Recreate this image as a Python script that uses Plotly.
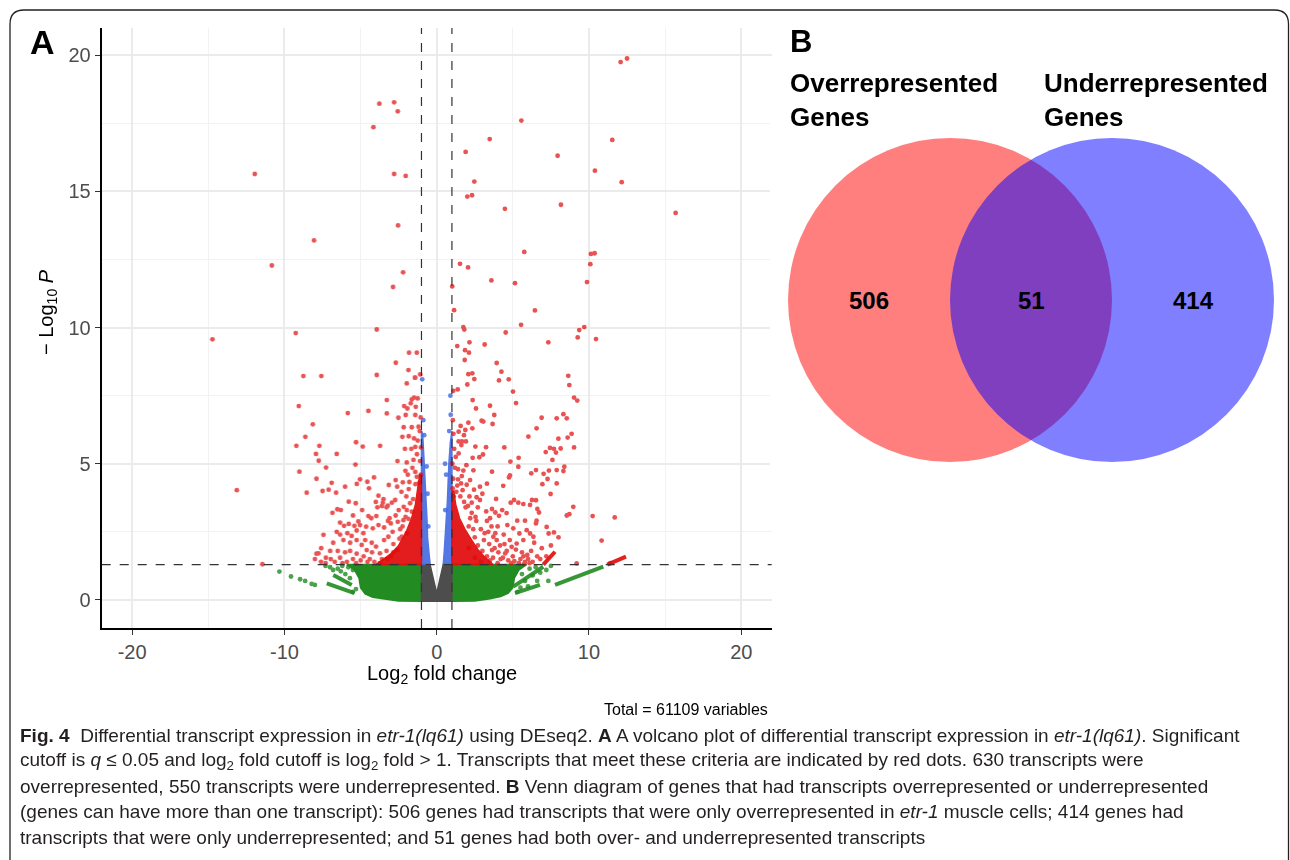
import plotly.graph_objects as go

# ---------------- DATA ----------------
# thresholds
lfc_cut = 1.0
p_cut = 1.3
x_ticks = [-20, -10, 0, 10, 20]
y_ticks = [0, 5, 10, 15, 20]

# significant (red) transcripts (log2FC, -log10 P)
red_right = [
    (12.08, 19.75), (12.50, 19.88), (5.56, 17.60), (3.48, 16.92), (11.53, 16.89), (1.90, 16.45),
    (7.94, 16.31), (10.39, 15.76), (2.47, 15.36), (12.15, 15.34), (2.01, 14.81), (2.32, 14.86),
    (4.48, 14.36), (8.16, 14.51), (15.69, 14.21), (5.75, 12.78), (10.13, 12.71), (10.37, 12.73),
    (1.53, 12.34), (2.06, 12.21), (10.09, 12.33), (3.59, 11.73), (5.14, 11.63), (9.87, 11.67),
    (1.02, 11.51), (1.14, 10.64), (6.45, 10.63), (5.54, 10.10), (1.75, 10.02), (9.69, 10.02),
    (9.36, 9.91), (1.81, 9.93), (4.53, 9.82), (9.26, 9.64), (10.46, 9.58), (7.33, 9.46),
    (1.35, 9.32), (2.15, 9.46), (3.15, 9.38), (1.86, 9.17), (2.12, 9.08), (1.84, 8.81),
    (3.94, 8.70), (4.25, 8.38), (2.08, 8.29), (2.34, 8.32), (2.47, 8.11), (4.09, 8.06),
    (4.73, 8.10), (2.01, 7.91), (8.64, 8.23), (8.71, 7.89), (1.09, 7.68), (1.38, 7.73),
    (5.01, 7.65), (9.02, 7.43), (9.23, 7.32), (2.36, 7.34), (5.21, 7.23), (3.50, 7.13),
    (2.58, 7.03), (3.78, 6.79), (6.89, 6.69), (7.88, 6.67), (8.32, 6.82), (8.54, 6.67),
    (2.08, 6.51), (2.95, 6.58), (3.06, 6.55), (1.57, 6.39), (2.34, 6.30), (1.88, 6.24),
    (3.67, 6.46), (6.56, 6.30), (6.02, 6.00), (1.44, 6.18), (1.79, 6.05), (7.99, 5.92),
    (8.60, 5.96), (8.86, 6.10), (1.44, 5.82), (1.66, 5.82), (1.92, 5.82), (2.54, 5.63),
    (3.24, 5.61), (4.44, 5.60), (7.44, 5.58), (7.70, 5.55), (8.14, 5.56), (7.83, 5.41),
    (9.02, 5.60), (7.16, 5.43), (7.60, 5.14), (1.62, 5.69), (1.44, 5.38), (2.36, 5.22),
    (2.80, 5.24), (3.04, 5.34), (5.38, 5.22), (4.84, 5.08), (1.20, 4.85), (1.40, 4.80),
    (1.75, 4.75), (5.36, 4.89), (8.38, 4.89), (7.88, 4.77), (8.32, 4.73), (3.63, 4.71),
    (6.21, 4.65), (6.52, 4.77), (2.41, 4.76), (1.40, 4.43), (7.02, 4.63), (7.37, 4.75),
    (4.81, 4.57), (4.75, 4.50), (1.60, 4.28), (1.97, 4.23), (2.19, 4.40), (3.30, 4.27),
    (2.84, 4.16), (6.94, 4.25), (7.88, 4.28), (7.28, 4.44), (4.37, 4.19), (1.70, 4.03),
    (1.29, 3.97), (7.48, 3.89), (2.62, 3.77), (2.84, 3.67), (2.30, 3.57), (3.90, 3.71),
    (4.86, 3.57), (5.36, 3.57), (5.69, 3.52), (6.13, 3.49), (5.08, 3.67), (6.26, 3.67),
    (6.52, 3.66), (8.97, 3.42), (8.54, 3.10), (8.71, 3.15), (10.24, 3.08), (11.69, 3.03),
    (6.61, 3.34), (6.72, 3.21), (3.63, 3.34), (3.85, 3.21), (4.09, 3.09), (4.59, 3.19),
    (5.29, 2.91), (5.80, 2.91), (6.56, 2.91), (6.52, 2.81), (7.22, 2.68), (7.70, 2.48),
    (7.35, 2.44), (5.91, 2.56), (6.13, 2.44), (6.35, 2.32), (4.64, 2.75), (5.03, 2.63),
    (5.43, 2.44), (5.69, 2.20), (5.25, 2.07), (4.92, 1.95), (3.39, 2.50), (3.72, 2.32),
    (3.94, 2.20), (4.16, 2.00), (3.63, 1.83), (4.50, 1.71), (10.83, 2.18), (9.19, 1.34),
    (11.40, 1.35), (2.60, 2.90), (2.90, 2.60), (3.10, 2.20), (2.70, 2.00), (3.00, 1.80),
    (3.30, 1.60), (2.50, 1.55), (3.50, 1.45), (3.80, 1.90), (4.20, 1.50), (4.70, 1.45),
    (5.00, 1.60), (5.50, 1.50), (5.60, 1.75), (5.80, 1.40), (5.70, 1.60), (6.00, 1.50),
    (6.30, 1.40), (6.60, 1.60), (6.90, 1.90), (6.20, 1.80), (4.40, 2.40), (4.00, 2.70),
    (3.30, 2.90), (2.30, 3.20), (2.10, 2.70), (2.50, 2.30), (4.80, 2.20), (5.20, 1.85),
    (3.50, 3.00), (4.30, 3.30), (2.70, 3.40), (1.90, 3.40), (3.00, 3.90), (2.20, 3.00),
    (3.60, 2.70), (4.60, 1.80), (2.90, 1.40), (2.10, 1.90), (6.40, 2.10), (6.80, 1.50),
    (7.50, 2.00), (7.20, 1.60), (8.00, 2.30), (5.40, 1.35), (4.00, 1.35), (3.70, 1.55),
    (2.40, 2.60), (1.55, 3.80), (1.80, 3.60), (2.05, 3.45), (1.35, 4.20), (1.65, 4.55),
    (2.15, 3.80), (2.55, 3.05), (3.15, 2.45), (3.45, 2.05), (4.05, 1.75), (4.35, 1.55),
    (4.90, 1.35), (5.10, 1.42), (5.75, 1.32), (5.95, 1.65), (6.10, 1.35), (4.45, 2.05),
    (3.85, 2.45), (3.25, 3.25), (2.45, 4.05), (1.95, 4.95), (1.25, 5.25), (1.15, 5.55),
    (1.05, 4.10), (1.08, 4.45), (1.12, 3.80), (1.03, 5.00), (1.10, 6.10), (1.06, 6.60),
]
red_left = [
    (-3.77, 18.22), (-2.80, 18.27), (-2.56, 17.94), (-4.16, 17.36), (-11.95, 15.64), (-2.80, 15.64),
    (-2.04, 15.57), (-2.54, 13.75), (-8.06, 13.20), (-10.83, 12.28), (-2.21, 12.03), (-2.87, 11.49),
    (-14.73, 9.57), (-9.26, 9.80), (-3.94, 9.93), (-13.13, 4.03), (-11.45, 1.31), (-8.76, 8.22),
    (-7.58, 8.22), (-9.06, 7.12), (-8.14, 6.45), (-8.63, 5.99), (-9.22, 5.66), (-9.02, 4.71),
    (-8.54, 3.94), (-5.84, 6.86), (-4.49, 6.94), (-3.28, 7.34), (-3.28, 6.85), (-3.94, 8.26),
    (-2.69, 8.71), (-1.82, 9.08), (-1.31, 9.08), (-1.86, 8.44), (-1.42, 8.16), (-7.71, 5.66),
    (-7.93, 5.36), (-7.75, 5.11), (-6.57, 5.36), (-5.30, 5.79), (-4.86, 5.63), (-3.72, 5.66),
    (-5.34, 4.97), (-5.04, 4.43), (-7.27, 4.86), (-7.90, 4.45), (-7.50, 4.00), (-7.10, 4.05),
    (-6.90, 4.30), (-6.61, 3.94), (-6.85, 3.20), (-6.53, 3.33), (-6.02, 4.16), (-5.25, 4.26),
    (-4.56, 4.34), (-4.12, 4.50), (-5.78, 3.61), (-5.32, 3.55), (-4.45, 4.10), (-3.15, 4.22),
    (-4.00, 3.60), (-3.90, 3.40), (-3.60, 3.45), (-3.30, 3.40), (-3.50, 3.70), (-4.49, 3.08),
    (-3.97, 3.08), (-1.09, 8.28), (-1.97, 7.95), (-1.43, 8.16), (-1.49, 7.43), (-1.64, 7.36),
    (-1.25, 7.40), (-2.14, 7.12), (-1.93, 7.03), (-1.71, 7.22), (-1.38, 7.09), (-2.52, 6.69),
    (-2.04, 6.79), (-1.41, 6.79), (-2.17, 6.34), (-1.64, 6.34), (-1.20, 6.36), (-2.26, 5.99),
    (-1.84, 6.01), (-1.49, 5.93), (-2.09, 5.55), (-1.67, 5.55), (-1.41, 5.62), (-2.58, 5.10),
    (-1.97, 5.05), (-1.53, 5.14), (-2.06, 4.74), (-1.41, 4.70), (-2.23, 4.32), (-1.80, 4.33),
    (-1.31, 4.52), (-2.60, 4.16), (-2.32, 3.97), (-1.84, 4.07), (-3.83, 3.83), (-3.54, 3.57),
    (-3.22, 3.46), (-2.95, 3.57), (-2.73, 3.67), (-2.17, 3.42), (-1.97, 3.30), (-1.64, 3.24),
    (-5.04, 2.75), (-4.64, 2.69), (-4.20, 2.63), (-3.83, 2.75), (-3.46, 2.66), (-3.02, 2.81),
    (-2.56, 2.87), (-2.19, 2.93), (-1.86, 2.98), (-6.35, 2.84), (-6.09, 2.72), (-5.78, 2.79),
    (-5.41, 2.72), (-5.15, 2.88), (-6.57, 2.50), (-6.35, 2.40), (-5.87, 2.45), (-5.59, 2.35),
    (-5.26, 2.55), (-4.82, 2.45), (-7.44, 2.39), (-7.59, 1.90), (-7.77, 1.71), (-7.28, 1.55),
    (-6.96, 1.50), (-6.35, 1.55), (-6.02, 1.75), (-5.69, 1.80), (-5.26, 1.70), (-4.60, 1.83),
    (-4.27, 2.10), (-3.99, 1.96), (-3.73, 1.71), (-3.46, 2.20), (-3.18, 2.32), (-2.85, 2.05),
    (-2.58, 1.83), (-2.30, 2.32), (-1.97, 2.45), (-5.26, 2.20), (-4.93, 2.02), (-6.13, 2.20),
    (-5.69, 2.10), (-7.60, 1.40), (-7.30, 1.35), (-6.70, 1.40), (-6.50, 1.80), (-5.90, 1.40),
    (-5.50, 1.50), (-5.00, 1.45), (-4.80, 1.60), (-4.40, 1.50), (-4.10, 1.40), (-4.70, 2.20),
    (-3.60, 1.50), (-3.30, 1.80), (-3.00, 1.60), (-2.90, 2.50), (-3.20, 2.90), (-2.70, 3.10),
    (-2.40, 2.60), (-4.30, 3.00), (-3.10, 3.00), (-2.00, 3.80), (-2.50, 3.30), (-1.90, 4.60),
    (-2.70, 4.40), (-6.30, 3.30), (-5.50, 3.10), (-4.90, 3.30), (-6.20, 1.35), (-5.30, 1.35),
    (-7.00, 1.80), (-6.80, 2.10), (-8.00, 1.50), (-7.90, 1.70), (-1.55, 3.70), (-1.75, 3.55),
    (-1.40, 4.25), (-1.60, 4.85), (-1.30, 5.35), (-1.25, 5.85), (-2.45, 2.25), (-2.85, 1.75),
    (-3.25, 1.50), (-3.75, 1.35), (-4.25, 1.75), (-4.55, 1.40), (-2.05, 3.05), (-2.25, 2.70),
    (-1.05, 4.60), (-1.10, 5.10), (-1.04, 5.60), (-1.12, 6.20), (-1.06, 6.70), (-1.15, 4.30),
]
# dense significant cores next to the fold-change cut-offs (outline of the solid red mass)
red_core_left = [(-1, 1.3), (-1, 4.6), (-1.12, 4.6), (-1.25, 4.0), (-1.4, 3.5),
                 (-1.65, 3.0), (-2.0, 2.5), (-2.5, 2.0), (-3.0, 1.7), (-3.6, 1.45), (-4.0, 1.3)]
red_core_right = [(1, 1.3), (1, 4.0), (1.12, 4.0), (1.25, 3.5), (1.5, 3.0),
                  (1.85, 2.6), (2.3, 2.2), (2.7, 1.85), (3.2, 1.55), (3.7, 1.3)]
red_streaks = [[(7.0, 1.30), (7.77, 1.77)], [(11.2, 1.30), (12.43, 1.59)]]

# p-value only (blue)
blue_left = [(-1, 1.3), (-0.43, 1.3), (-0.52, 1.8), (-0.6, 2.3), (-0.64, 3.0), (-0.7, 3.6),
             (-0.75, 4.4), (-0.85, 5.2), (-0.92, 6.1), (-1, 6.2)]
blue_right = [(1, 1.3), (0.43, 1.3), (0.5, 1.8), (0.57, 2.3), (0.63, 3.0), (0.7, 3.6),
              (0.75, 4.4), (0.8, 5.0), (0.9, 5.8), (0.97, 6.2), (1, 6.2)]
blue_pts = [(-0.95, 8.1), (-0.82, 6.05), (-0.88, 6.6), (0.82, 6.2), (0.55, 5.0), (0.9, 7.5),
            (0.92, 6.8), (0.62, 4.6), (-0.66, 4.9), (-0.6, 3.9), (0.56, 3.3), (-0.55, 2.7)]

# fold-change only (green)
green_left = [(-1, 1.3), (-1, -0.05), (-2.5, -0.04), (-3.5, 0.03), (-4.2, 0.1), (-4.7, 0.22),
              (-5.0, 0.45), (-5.1, 0.8), (-5.4, 1.1), (-5.9, 1.3)]
green_right = [(1, 1.3), (1, -0.05), (2.5, -0.04), (3.5, 0.04), (4.2, 0.13), (4.7, 0.25),
               (5.0, 0.45), (5.1, 0.8), (5.4, 1.1), (5.9, 1.3)]
green_pts = [(-10.33, 1.04), (-9.57, 0.86), (-8.97, 0.76), (-8.64, 0.70), (-8.21, 0.59), (-8.0, 0.55),
             (-5.5, 1.1), (-5.8, 1.2), (-6.2, 1.25), (-6.5, 1.15), (-6.0, 0.95), (-5.7, 0.8),
             (-6.3, 1.05), (-7.0, 1.2), (-7.3, 1.25), (-6.8, 1.1), (-5.3, 0.4), (-5.5, 0.3),
             (6.5, 1.2), (6.8, 1.0), (6.3, 0.9), (5.8, 0.7), (6.0, 0.5), (7.2, 1.1), (6.6, 0.7),
             (5.5, 0.45), (7.5, 1.25), (5.3, 0.3), (7.33, 0.70), (6.1, 1.15), (5.6, 0.95)]
green_streaks = [[(-7.22, 0.61), (-5.4, 0.25)], [(-6.79, 0.92), (-5.58, 0.55)],
                 [(5.14, 0.25), (6.78, 0.55)], [(5.03, 0.49), (7.0, 1.22)],
                 [(7.77, 0.55), (10.94, 1.22)]]

# not significant (grey): outline of the solid mass with the empty notch at zero
grey_region = [(-1, -0.05), (1, -0.05), (1, 1.3), (0.43, 1.3), (0, 0.25), (-0.44, 1.3), (-1, 1.3)]

# Venn diagram
venn_counts = [506, 51, 414]
venn_titles = ["Overrepresented<br>Genes", "Underrepresented<br>Genes"]
total_label = "Total = 61109 variables"

# ---------------- FIGURE ----------------
W, H = 1290, 860
RED, BLUE, GREEN, GREY = "rgb(225,10,10)", "rgb(65,105,225)", "rgb(34,139,34)", "rgb(77,77,77)"
ARIAL = "Liberation Sans, Arial, sans-serif"


def px(x):
    return x / W


def py(y):
    return 1 - y / H


fig = go.Figure()


def poly(pts, color, op=1.0):
    xs = [p[0] for p in pts] + [pts[0][0]]
    ys = [p[1] for p in pts] + [pts[0][1]]
    fig.add_trace(go.Scatter(x=xs, y=ys, mode="lines", fill="toself", fillcolor=color,
                             line=dict(color=color, width=1.5), opacity=op, hoverinfo="skip",
                             showlegend=False, xaxis="x", yaxis="y"))


def pts_trace(pts, color, size=4.8, op=0.7):
    fig.add_trace(go.Scatter(x=[p[0] for p in pts], y=[p[1] for p in pts], mode="markers",
                             marker=dict(color=color, size=size, line=dict(width=0)), opacity=op,
                             showlegend=False, xaxis="x", yaxis="y"))


def streak(seg, color, width=4):
    fig.add_trace(go.Scatter(x=[seg[0][0], seg[1][0]], y=[seg[0][1], seg[1][1]], mode="lines",
                             line=dict(color=color, width=width), opacity=0.9,
                             showlegend=False, xaxis="x", yaxis="y"))


poly(green_left, GREEN)
poly(green_right, GREEN)
pts_trace(green_pts, GREEN, op=0.8)
for s in green_streaks:
    streak(s, GREEN)
poly(grey_region, GREY)
poly(blue_left, BLUE, 0.9)
poly(blue_right, BLUE, 0.9)
pts_trace(blue_pts, BLUE, op=0.8)
poly(red_core_left, RED, 0.92)
poly(red_core_right, RED, 0.92)
for s in red_streaks:
    streak(s, RED)
pts_trace(red_left, RED)
pts_trace(red_right, RED)

# thresholds
for v in (-lfc_cut, lfc_cut):
    fig.add_vline(x=v, line=dict(color="#333333", width=1.2, dash="dash"))
fig.add_hline(y=p_cut, line=dict(color="#333333", width=1.2, dash="dash"))

# axes for volcano
fig.update_layout(
    xaxis=dict(domain=[px(101.7), px(771.7)], range=[-22, 22], tickvals=x_ticks,
               ticktext=[str(v) for v in x_ticks], showline=True, linecolor="black", linewidth=2,
               ticks="outside", ticklen=5, tickcolor="#333333", tickwidth=1.3,
               tickfont=dict(family=ARIAL, size=20, color="#4d4d4d"),
               showgrid=True, gridcolor="#EBEBEB", gridwidth=1.6, zeroline=False,
               minor=dict(dtick=5, showgrid=True, gridcolor="#F2F2F2", gridwidth=0.9, ticks=""),
               anchor="y", fixedrange=True),
    yaxis=dict(domain=[py(628), py(28)], range=[-1.03, 21.0], tickvals=y_ticks,
               ticktext=[str(v) for v in y_ticks], showline=True, linecolor="black", linewidth=2,
               ticks="outside", ticklen=5, tickcolor="#333333", tickwidth=1.3,
               tickfont=dict(family=ARIAL, size=20, color="#4d4d4d"),
               showgrid=True, gridcolor="#EBEBEB", gridwidth=1.6, zeroline=False,
               minor=dict(dtick=2.5, showgrid=True, gridcolor="#F2F2F2", gridwidth=0.9, ticks=""),
               anchor="x", fixedrange=True),
    # Venn axes: 162 px per unit, radius = 1
    xaxis2=dict(domain=[px(770), px(1290)], range=[-0.5 - 180 / 162, -0.5 + 340 / 162],
                visible=False, anchor="y2", fixedrange=True),
    yaxis2=dict(domain=[py(480), py(100)], range=[-180 / 162, 200 / 162],
                visible=False, anchor="x2", fixedrange=True),
)

# Venn circles
fig.add_shape(type="circle", xref="x2", yref="y2", x0=-1.5, x1=0.5, y0=-1, y1=1,
              fillcolor="rgba(255,0,0,0.5)", line=dict(width=0))
fig.add_shape(type="circle", xref="x2", yref="y2", x0=-0.5, x1=1.5, y0=-1, y1=1,
              fillcolor="rgba(0,0,255,0.5)", line=dict(width=0))
for xv, c in zip([-1.0, 0.0, 1.0], venn_counts):
    fig.add_annotation(x=xv, y=0, xref="x2", yref="y2", text=f"<b>{c}</b>", showarrow=False,
                       xanchor="center", yanchor="middle",
                       font=dict(family=ARIAL, size=24, color="black"))
for xp, t in zip([788, 1042], venn_titles):
    fig.add_annotation(x=px(xp), y=py(100), xref="paper", yref="paper", xanchor="left",
                       yanchor="middle", align="left", text=f"<b>{t}</b>", showarrow=False,
                       font=dict(family=ARIAL, size=26, color="black"))

# panel letters
fig.add_annotation(x=px(42), y=py(42), xref="paper", yref="paper", text="<b>A</b>",
                   xanchor="center", yanchor="middle",
                   showarrow=False, font=dict(family=ARIAL, size=34, color="black"))
fig.add_annotation(x=px(801), y=py(41), xref="paper", yref="paper", text="<b>B</b>",
                   xanchor="center", yanchor="middle",
                   showarrow=False, font=dict(family=ARIAL, size=31, color="black"))

# axis titles
fig.add_annotation(x=px(442), y=py(674), xref="paper", yref="paper",
                   xanchor="center", yanchor="middle",
                   text="Log<sub>2</sub> fold change", showarrow=False,
                   font=dict(family=ARIAL, size=20, color="black"))
fig.add_annotation(x=px(47), y=py(312), xref="paper", yref="paper", textangle=-90,
                   xanchor="center", yanchor="middle",
                   text="\u2212 Log<sub>10</sub> <i>P</i>", showarrow=False,
                   font=dict(family=ARIAL, size=20, color="black"))
fig.add_annotation(x=px(770), y=py(709), xref="paper", yref="paper", xanchor="right",
                   yanchor="middle", text=total_label, showarrow=False,
                   font=dict(family=ARIAL, size=16, color="black"))

# caption
CAP = "Liberation Sans Narrow, Arial Narrow, Liberation Sans, sans-serif"
cap_lines = [
    "<b>Fig. 4</b>  Differential transcript expression in <i>etr-1(lq61)</i> using DEseq2. "
    "<b>A</b> A volcano plot of differential transcript expression in <i>etr-1(lq61)</i>. Significant",
    "cutoff is <i>q</i> \u2264 0.05 and log<sub>2</sub> fold cutoff is log<sub>2</sub> fold > 1. "
    "Transcripts that meet these criteria are indicated by red dots. 630 transcripts were",
    "overrepresented, 550 transcripts were underrepresented. <b>B</b> Venn diagram of genes that had "
    "transcripts overrepresented or underrepresented",
    "(genes can have more than one transcript): 506 genes had transcripts that were only "
    "overrepresented in <i>etr-1</i> muscle cells; 414 genes had",
    "transcripts that were only underrepresented; and 51 genes had both over- and underrepresented "
    "transcripts",
]
for i, line in enumerate(cap_lines):
    fig.add_annotation(x=px(18), y=py(735 + i * 25.5), xref="paper", yref="paper",
                       xanchor="left", yanchor="middle", align="left", text=line,
                       showarrow=False, font=dict(family=CAP, size=19, color="#231f20"))

# outer rounded frame
x0, x1, yt, r = px(10), px(1288.5), py(10), 14
rx, ry = r / W, r / H
path = (f"M {x0},-0.05 L {x0},{yt - ry} Q {x0},{yt} {x0 + rx},{yt} "
        f"L {x1 - rx},{yt} Q {x1},{yt} {x1},{yt - ry} L {x1},-0.05")
fig.add_shape(type="path", xref="paper", yref="paper", path=path,
              line=dict(color="#231f20", width=1.3))

fig.update_layout(width=W, height=H, margin=dict(l=0, r=0, t=0, b=0),
                  paper_bgcolor="white", plot_bgcolor="white", showlegend=False)

fig.write_html("out.html", config={"displayModeBar": False},
               post_script="document.body.style.margin='0';document.body.style.overflow='hidden';")
